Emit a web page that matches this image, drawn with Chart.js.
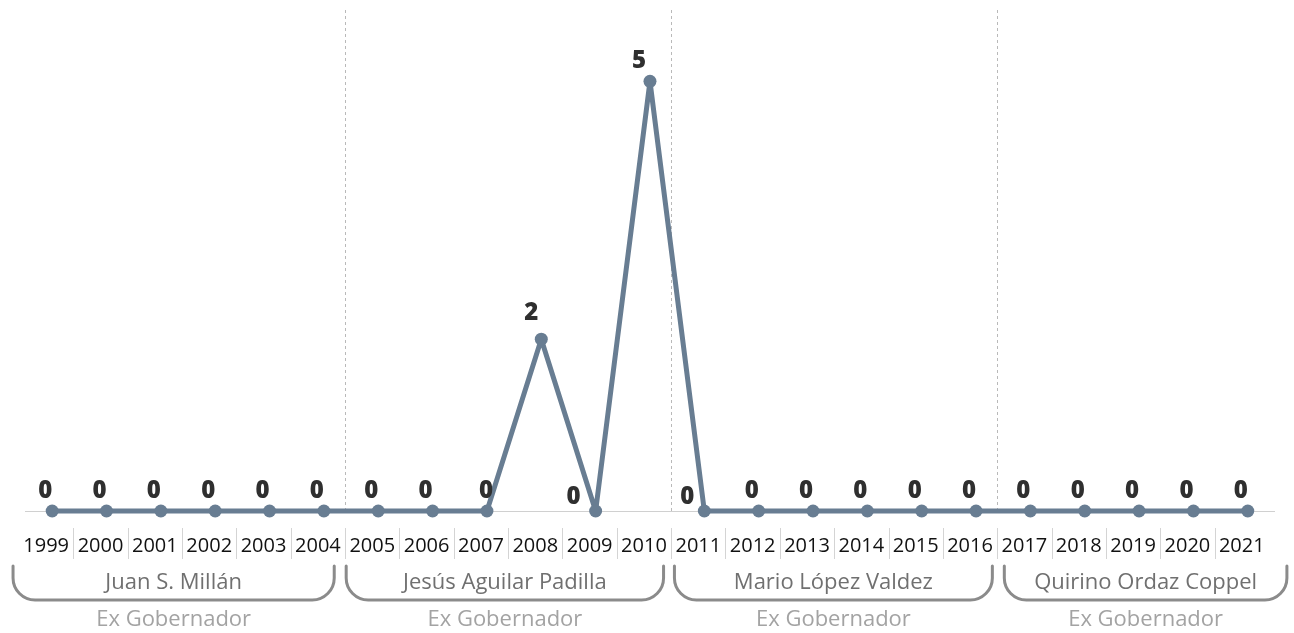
<!DOCTYPE html>
<html>
<head>
<meta charset="utf-8">
<script src="https://cdn.jsdelivr.net/npm/chart.js@4/dist/chart.umd.min.js"></script>
<style>
  html, body { margin: 0; padding: 0; background: #ffffff; }
  #wrap { width: 1294px; height: 633px; position: relative; }
</style>
</head>
<body>
<div id="wrap"><canvas id="c" width="1294" height="633"></canvas></div>
<script>
// ---- data ----
const years = ["1999","2000","2001","2002","2003","2004","2005","2006","2007","2008","2009","2010","2011","2012","2013","2014","2015","2016","2017","2018","2019","2020","2021"];
const values = [0,0,0,0,0,0,0,0,0,2,0,5,0,0,0,0,0,0,0,0,0,0,0];
const governors = ["Juan S. Millán","Jesús Aguilar Padilla","Mario López Valdez","Quirino Ordaz Coppel"];
const governorRole = "Ex Gobernador";
const governorBreaks = [6, 12, 18]; // category index where a new term starts

// ---- plugins ----
const decorPlugin = {
  id: 'decor',
  beforeDatasetsDraw(chart, args, opts) {
    const ctx = chart.ctx, x = chart.scales.x, area = chart.chartArea;
    const cw = (x.right - x.left) / years.length;
    ctx.save();
    ctx.strokeStyle = '#b9b9b9';
    ctx.lineWidth = 1;
    ctx.setLineDash([3, 3]);
    governorBreaks.forEach(b => {
      const px = Math.round(x.left + b * cw + opts.shift) + 0.5;
      ctx.beginPath();
      ctx.moveTo(px, area.top);
      ctx.lineTo(px, area.bottom);
      ctx.stroke();
    });
    ctx.restore();
  },
  afterDraw(chart, args, opts) {
    const ctx = chart.ctx, x = chart.scales.x;
    const cw = (x.right - x.left) / years.length;
    ctx.save();
    // separators between year labels
    ctx.strokeStyle = '#d4d4d4';
    ctx.lineWidth = 1;
    for (let k = 1; k < years.length; k++) {
      const px = Math.round(x.left + k * cw + opts.shift) + 0.5;
      ctx.beginPath();
      ctx.moveTo(px, opts.sepTop);
      ctx.lineTo(px, opts.sepBottom);
      ctx.stroke();
    }
    // brackets
    ctx.strokeStyle = '#8b8b8b';
    ctx.lineWidth = 3;
    ctx.lineCap = 'round';
    const r = opts.radius;
    opts.edges.forEach((e, i) => {
      const l = x.left + e[0] * cw, rt = x.left + e[1] * cw;
      const top = opts.bracketTop, bot = opts.bracketBottom;
      ctx.beginPath();
      ctx.moveTo(l, top);
      ctx.lineTo(l, bot - r);
      ctx.arcTo(l, bot, l + r, bot, r);
      ctx.lineTo(rt - r, bot);
      ctx.arcTo(rt, bot, rt, bot - r, r);
      ctx.lineTo(rt, top);
      ctx.stroke();
      const cx = (l + rt) / 2;
      ctx.textAlign = 'center';
      ctx.textBaseline = 'middle';
      ctx.fillStyle = '#707070';
      ctx.font = "500 22px 'Open Sans', sans-serif";
      ctx.fillText(governors[i], cx, opts.nameY);
      ctx.fillStyle = '#a3a3a3';
      ctx.font = "22px 'Open Sans', sans-serif";
      ctx.fillText(governorRole, cx, opts.roleY);
    });
    ctx.restore();
  },
  afterDatasetsDraw(chart, args, opts) {
    const ctx = chart.ctx;
    const meta = chart.getDatasetMeta(0);
    ctx.save();
    ctx.fillStyle = '#2f2f2f';
    ctx.font = "800 24px 'Open Sans', sans-serif";
    ctx.textAlign = 'center';
    ctx.textBaseline = 'middle';
    meta.data.forEach((pt, i) => {
      const o = Object.assign({}, opts.labelOffset, opts.labelOverrides[i] || {});
      ctx.fillText(String(values[i]), pt.x + o.dx, pt.y + o.dy);
    });
    ctx.restore();
  }
};

Chart.defaults.font.family = "'Open Sans', sans-serif";

new Chart(document.getElementById('c'), {
  type: 'line',
  data: {
    labels: years,
    datasets: [{
      data: values,
      borderColor: '#687d92',
      backgroundColor: '#687d92',
      borderWidth: 5,
      borderJoinStyle: 'round',
      borderCapStyle: 'round',
      pointRadius: 6.5,
      pointBorderWidth: 0,
      pointBackgroundColor: '#687d92',
      tension: 0,
      clip: false
    }]
  },
  options: {
    responsive: false,
    animation: false,
    layout: { padding: { left: 25, right: 16, top: 10, bottom: 0 } },
    plugins: {
      legend: { display: false },
      tooltip: { enabled: false },
      decor: {
        shift: -6,
        sepTop: 528,
        sepBottom: 559,
        bracketTop: 566,
        bracketBottom: 600,
        radius: 22,
        nameY: 583,
        roleY: 620,
        edges: [[-0.22, 5.69], [5.91, 11.75], [11.95, 17.8], [18.02, 23.22]],
        labelOffset: { dx: -7, dy: -20 },
        labelOverrides: {
          8: { dx: -1 },
          9: { dx: -10, dy: -26 },
          10: { dx: -22, dy: -14 },
          11: { dx: -11, dy: -20 },
          12: { dx: -17, dy: -14 }
        }
      }
    },
    scales: {
      x: {
        type: 'category',
        offset: true,
        grid: { display: false, drawTicks: false },
        border: { display: true, color: '#d0d0d0', width: 1 },
        ticks: {
          color: '#111111',
          font: { size: 20, weight: '500' },
          padding: 23,
          labelOffset: -6,
          maxRotation: 0,
          autoSkip: false
        },
        afterFit(scale) { scale.height = 122; }
      },
      y: {
        display: false,
        min: 0,
        max: 5.83
      }
    }
  },
  plugins: [decorPlugin]
});
</script>
</body>
</html>
